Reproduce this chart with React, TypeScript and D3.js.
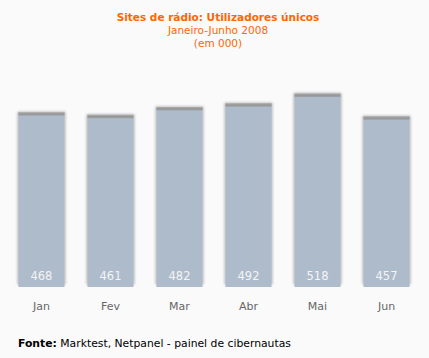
import React from "react";
import * as d3 from "d3";

const months = ["Jan", "Fev", "Mar", "Abr", "Mai", "Jun"];
const values = [468, 461, 482, 492, 518, 457];
const title = "Sites de rádio: Utilizadores únicos";
const subtitle1 = "Janeiro-Junho 2008";
const subtitle2 = "(em 000)";
const sourceLabel = "Fonte:";
const sourceText = " Marktest, Netpanel - painel de cibernautas";

export default function App() {
  const W = 429, H = 358;
  const x = d3.scaleBand<string>().domain(months).range([7, 421]).paddingInner(0.333).paddingOuter(0.166);
  const y = d3.scaleLinear().domain([0, 600]).range([287, 287 - 600 * 0.3735]);
  const font = "Verdana, 'DejaVu Sans', sans-serif";
  return (
    <div style={{ position: "absolute", left: 0, top: 0 }}>
      <svg width={W} height={H} style={{ display: "block", background: "#fafafa" }}>
        <defs>
          <filter id="blur" x="-20%" y="-20%" width="140%" height="140%">
            <feGaussianBlur stdDeviation="1" />
          </filter>
          <linearGradient id="cap" x1="0" x2="0" y1="0" y2="1">
            <stop offset="0" stopColor="#b0b0b0" />
            <stop offset="0.5" stopColor="#959595" />
            <stop offset="1" stopColor="#a0a4aa" />
          </linearGradient>
        </defs>
        <text x={218} y={21} textAnchor="middle" fill="#ff6600" fontFamily={font} fontWeight="bold" fontSize={10.5}>{title}</text>
        <text x={218} y={34} textAnchor="middle" fill="#ff6600" fontFamily={font} fontSize={10.5}>{subtitle1}</text>
        <text x={218} y={47} textAnchor="middle" fill="#ff6600" fontFamily={font} fontSize={10.5}>{subtitle2}</text>
        {months.map((m, i) => {
          const bx = x(m)!;
          const bw = x.bandwidth();
          const top = y(values[i]);
          const bottom = y(0);
          return (
            <g key={m}>
              <rect x={bx - 1.5} y={top - 1} width={bw + 3} height={bottom - top - 1} rx={2} fill="#c8c8c8" filter="url(#blur)" />
              <rect x={bx} y={top} width={bw} height={bottom - top} fill="#aebbcb" />
              <rect x={bx} y={top} width={bw} height={3.5} fill="url(#cap)" />
              <text x={bx + bw / 2} y={bottom - 7} textAnchor="middle" fill="#f4f4f4" fontFamily={font} fontSize={11.5}>{values[i]}</text>
              <text x={bx + bw / 2} y={310} textAnchor="middle" fill="#666" fontFamily={font} fontSize={11}>{m}</text>
            </g>
          );
        })}
        <text x={18} y={347} fill="#000" fontFamily={font} fontSize={10.8}>
          <tspan fontWeight="bold">{sourceLabel}</tspan>
          <tspan>{sourceText}</tspan>
        </text>
      </svg>
    </div>
  );
}
